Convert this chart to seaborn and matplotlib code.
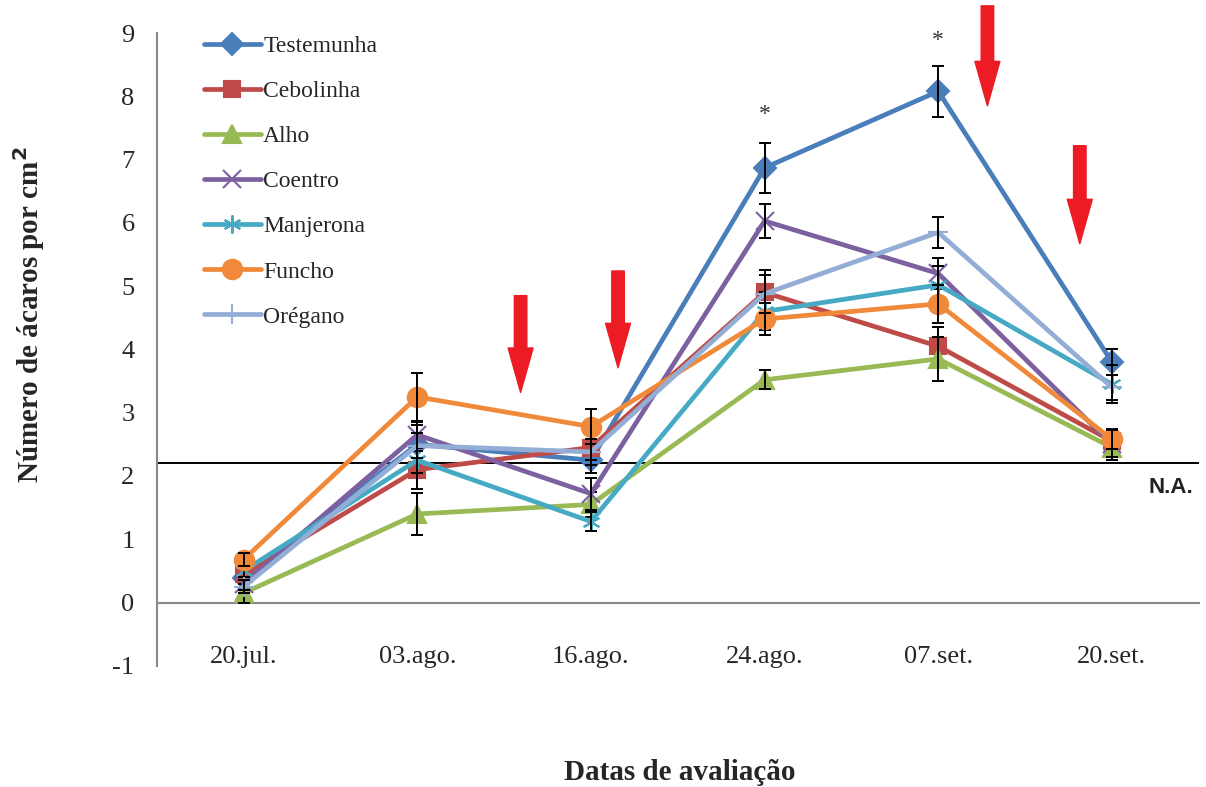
import numpy as np
import pandas as pd
import seaborn as sns
import matplotlib.pyplot as plt
from matplotlib.ticker import FixedLocator

# data
datas = ['20.jul.', '03.ago.', '16.ago.', '24.ago.', '07.set.', '20.set.']
series = ['Testemunha', 'Cebolinha', 'Alho', 'Coentro', 'Manjerona', 'Funcho', 'Orégano']

testemunha = [0.38, 2.50, 2.25, 6.87, 8.08, 3.80]
cebolinha = [0.45, 2.10, 2.45, 4.90, 4.05, 2.55]
alho = [0.15, 1.40, 1.55, 3.52, 3.85, 2.45]
coentro = [0.30, 2.65, 1.72, 6.03, 5.20, 2.50]
manjerona = [0.50, 2.25, 1.28, 4.60, 5.02, 3.45]
funcho = [0.68, 3.25, 2.78, 4.48, 4.72, 2.58]
oregano = [0.25, 2.48, 2.38, 4.88, 5.85, 3.40]

err_testemunha = [0.15, 0.30, 0.20, 0.40, 0.40, 0.20]
err_cebolinha = [0.15, 0.30, 0.20, 0.35, 0.30, 0.20]
err_alho = [0.15, 0.33, 0.20, 0.15, 0.35, 0.20]
err_coentro = [0.10, 0.20, 0.25, 0.27, 0.25, 0.20]
err_manjerona = [0.10, 0.20, 0.15, 0.30, 0.30, 0.30]
err_funcho = [0.10, 0.38, 0.28, 0.25, 0.30, 0.15]
err_oregano = [0.10, 0.20, 0.20, 0.30, 0.25, 0.20]

nivel_acao = 2.2
signif = [3, 4]          # dates marked with *
signif_y = [7.72, 8.88]

# red arrows: (x, y top, y tip) in data units
setas = [(1.595, 4.85, 3.32), (2.156, 5.24, 3.71), (4.283, 9.43, 7.85), (4.815, 7.22, 5.67)]

valores = [testemunha, cebolinha, alho, coentro, manjerona, funcho, oregano]
erros = [err_testemunha, err_cebolinha, err_alho, err_coentro, err_manjerona, err_funcho, err_oregano]
cores = ['#4A7EBB', '#BE4B48', '#98B954', '#7D60A0', '#46AAC5', '#F08A3A', '#93AED6']
marcadores = ['D', 's', '^', 'x', (6, 2, 0), 'o', '+']
tam = [11, 11, 13, 13, 13, 14, 15]

sns.set_style('white')
plt.rcParams['font.family'] = ['Liberation Serif', 'DejaVu Serif']
plt.rcParams['axes.unicode_minus'] = False

fig = plt.figure(figsize=(12.06, 7.87), dpi=100)
ax = fig.add_axes([0.130, 0.154, 0.864, 0.804])

for i, nome in enumerate(series):
    df = pd.DataFrame({'x': np.arange(len(datas)), 'y': valores[i]})
    sns.lineplot(data=df, x='x', y='y', ax=ax, color=cores[i], linewidth=3.4,
                 marker=marcadores[i], markersize=tam[i], markeredgecolor=cores[i],
                 markeredgewidth=1.5, label=nome, zorder=3 + i)
    ax.errorbar(df['x'], df['y'], yerr=erros[i], fmt='none', ecolor='black',
                elinewidth=1.4, capsize=4.5, capthick=1.4, zorder=3 + i)

ax.axhline(nivel_acao, color='black', linewidth=1.4, zorder=2)
ax.text(5.34, nivel_acao - 0.22, 'N.A.', fontsize=16, fontweight='bold',
        family='Liberation Sans', color='#222222', ha='center', va='top')

for xs, ys in zip(signif, signif_y):
    ax.text(xs, ys, '*', fontsize=17, ha='center', va='center', color='#333333')

for xa, yt, yp in setas:
    ax.annotate('', xy=(xa, yp), xytext=(xa, yt), annotation_clip=False,
                arrowprops=dict(arrowstyle='simple,head_width=0.9,head_length=1.6,tail_width=0.45',
                                mutation_scale=20, color='#ED1C24', shrinkA=0, shrinkB=0))

ax.set_xlim(-0.5, len(datas) - 0.5)
ax.set_ylim(-1, 9)
ax.set_yticks(range(-1, 10))
ax.xaxis.set_major_locator(FixedLocator(np.arange(-0.5, len(datas), 1.0)))
ax.xaxis.set_major_formatter(plt.NullFormatter())
ax.xaxis.set_minor_locator(FixedLocator(np.arange(len(datas))))
ax.set_xticklabels(datas, minor=True)
ax.tick_params(axis='x', which='major', direction='out', length=7, width=1.3, color='#8A8A8A')
ax.tick_params(axis='x', which='minor', length=0, pad=31, labelsize=19)
ax.tick_params(axis='y', direction='out', length=6, width=1.3, color='#8A8A8A', pad=10, labelsize=19)

for s in ['top', 'right']:
    ax.spines[s].set_visible(False)
ax.spines['bottom'].set_position(('data', 0))
ax.spines['bottom'].set_color('#8A8A8A')
ax.spines['left'].set_color('#8A8A8A')
ax.spines['bottom'].set_linewidth(1.5)
ax.spines['left'].set_linewidth(1.5)

ax.set_xlabel('Datas de avaliação', fontsize=21, fontweight='bold')
ax.set_ylabel('Número de ácaros por cm$^\\mathbf{2}$', fontsize=21, fontweight='bold')
ax.xaxis.set_label_coords(0.502, -0.148)
ax.yaxis.set_label_coords(-0.105, 0.555)

ax.legend(loc='upper left', bbox_to_anchor=(0.025, 1.03), frameon=False, fontsize=17,
          handlelength=2.4, handletextpad=0.1, labelspacing=1.0)

fig.savefig('out.png', dpi=100)
